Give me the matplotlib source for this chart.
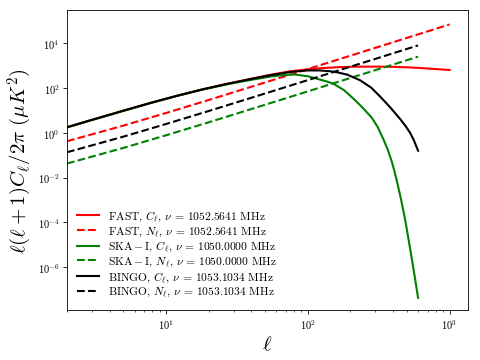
import numpy as np
import matplotlib
matplotlib.use('Agg')
import matplotlib.pyplot as plt
from matplotlib.ticker import NullLocator

plt.rcParams['font.family'] = 'serif'
plt.rcParams['font.serif'] = ['cmr10']
plt.rcParams['mathtext.fontset'] = 'cm'
plt.rcParams['axes.formatter.use_mathtext'] = True

# signal C_l (log10 values)
ell_fast = [2, 3, 5, 8, 12, 18, 27, 40, 55, 75, 100, 130, 170, 230, 300, 400, 500, 650, 800, 1000]
logc_fast = [0.25, 0.58, 0.99, 1.36, 1.66, 1.94, 2.19, 2.42, 2.60, 2.75, 2.84, 2.90, 2.94,
             2.96, 2.96, 2.95, 2.93, 2.89, 2.85, 2.81]

ell_ska = [2, 3, 5, 8, 12, 18, 27, 40, 55, 70, 80, 100, 122, 137, 152, 180, 212, 245, 283,
           312, 342, 366, 392, 408, 425, 455, 486, 508, 531, 563, 600]
logc_ska = [0.24, 0.57, 0.98, 1.35, 1.65, 1.93, 2.17, 2.37, 2.52, 2.59, 2.61, 2.53, 2.38,
            2.29, 2.19, 1.91, 1.50, 1.11, 0.67, 0.25, -0.30, -0.74, -1.30, -1.70, -2.15,
            -2.98, -3.88, -4.58, -5.30, -6.27, -7.38]

ell_bingo = [2, 3, 5, 8, 12, 18, 27, 40, 55, 75, 100, 120, 140, 160, 190, 234, 280, 324,
             380, 448, 490, 527, 560, 600]
logc_bingo = [0.25, 0.58, 0.99, 1.36, 1.66, 1.94, 2.19, 2.41, 2.58, 2.72, 2.79, 2.79, 2.76,
              2.71, 2.60, 2.35, 2.02, 1.62, 1.15, 0.62, 0.30, 0.00, -0.33, -0.80]

# noise N_l
ell_n_fast = [2, 5, 10, 20, 50, 100, 200, 500, 1000]
n_fast = [0.42, 2.10, 7.70, 29.4, 178.5, 707, 2815, 17540, 70100]

ell_n = [2, 5, 10, 20, 50, 100, 200, 500, 600]
n_ska = [0.0423, 0.2115, 0.776, 2.96, 17.98, 71.2, 283.6, 1766, 2543]
n_bingo = [0.135, 0.675, 2.48, 9.45, 57.4, 227, 905, 5638, 8115]

yticks = [1e-6, 1e-4, 1e-2, 1e0, 1e2, 1e4]

fig = plt.figure(figsize=(6.4, 4.8133), dpi=75)
ax = fig.add_axes([0.1396, 0.1393, 0.8354, 0.8302])

ax.plot(ell_fast, 10**np.array(logc_fast), color='red', lw=2,
        label=r'FAST, $C_\ell$, $\nu$ = 1052.5641 MHz')
ax.plot(ell_n_fast, n_fast, color='red', lw=2, ls='--',
        label=r'FAST, $N_\ell$, $\nu$ = 1052.5641 MHz')
ax.plot(ell_ska, 10**np.array(logc_ska), color='green', lw=2,
        label=r'$\rm SKA-I$, $C_\ell$, $\nu$ = 1050.0000 MHz')
ax.plot(ell_n, n_ska, color='green', lw=2, ls='--',
        label=r'$\rm SKA-I$, $N_\ell$, $\nu$ = 1050.0000 MHz')
ax.plot(ell_bingo, 10**np.array(logc_bingo), color='black', lw=2,
        label=r'BINGO, $C_\ell$, $\nu$ = 1053.1034 MHz')
ax.plot(ell_n, n_bingo, color='black', lw=2, ls='--',
        label=r'BINGO, $N_\ell$, $\nu$ = 1053.1034 MHz')

ax.set_xscale('log')
ax.set_yscale('log')
ax.set_xlim(2, 1350)
ax.set_ylim(1.23e-8, 3.1e5)
ax.set_yticks(yticks)
ax.yaxis.set_minor_locator(NullLocator())

ax.set_xlabel(r'$\ell$', fontsize=20)
ax.set_ylabel(r'$\ell(\ell+1)C_\ell/2\pi\ (\mu K^2)$', fontsize=20)

ax.legend(loc='lower left', frameon=False, fontsize=11, handlelength=1.85,
          labelspacing=0.05)

plt.savefig('out.png', dpi=75)
